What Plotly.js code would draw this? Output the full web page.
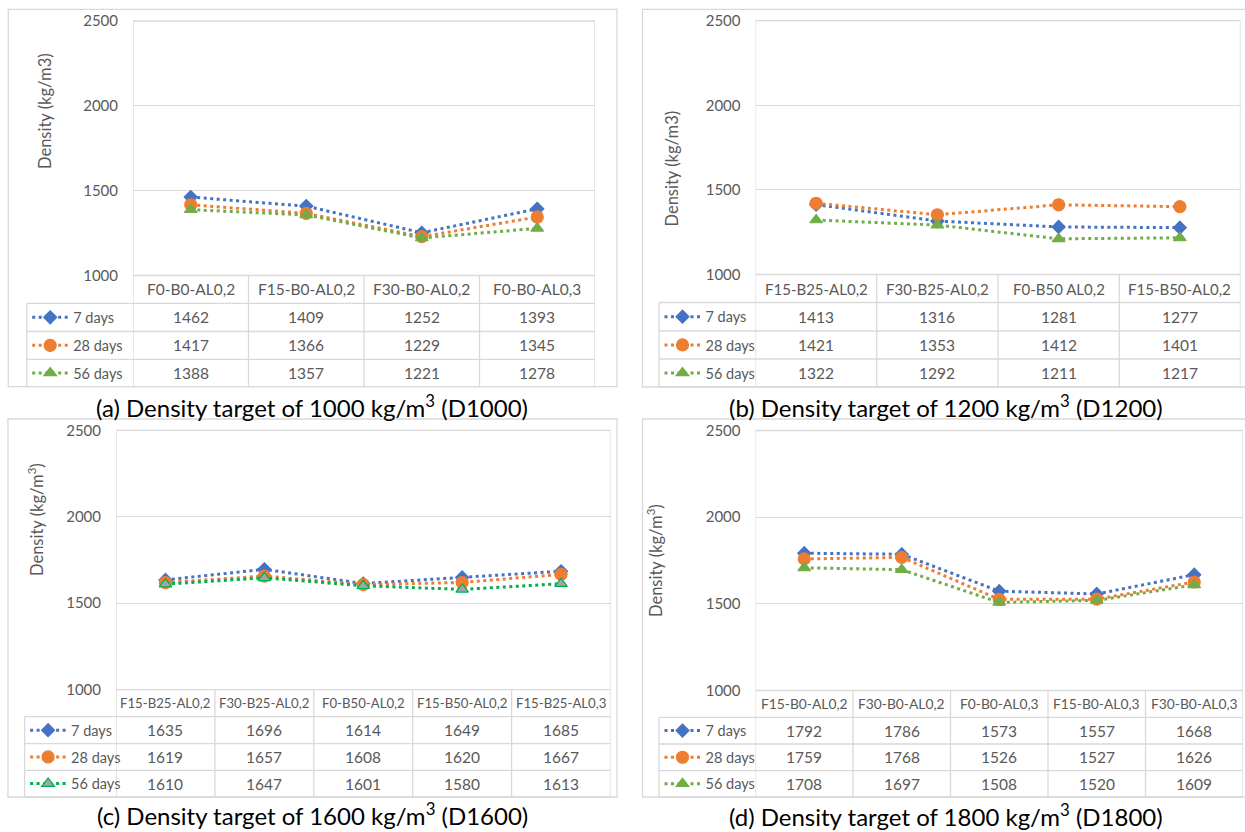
<!DOCTYPE html>
<html>
<head>
<meta charset="utf-8">
<script src="https://cdn.plot.ly/plotly-3.0.1.min.js"></script>
<style>html,body{margin:0;padding:0;background:#fff}#chart{width:1245px;height:832px}</style>
</head>
<body>
<div id="chart"></div>
<script>
// ---------------- data ----------------
const seriesNames = ["7 days", "28 days", "56 days"];

const catsA = ["F0-B0-AL0,2", "F15-B0-AL0,2", "F30-B0-AL0,2", "F0-B0-AL0,3"];
const a7  = [1462, 1409, 1252, 1393];
const a28 = [1417, 1366, 1229, 1345];
const a56 = [1388, 1357, 1221, 1278];

const catsB = ["F15-B25-AL0,2", "F30-B25-AL0,2", "F0-B50 AL0,2", "F15-B50-AL0,2"];
const b7  = [1413, 1316, 1281, 1277];
const b28 = [1421, 1353, 1412, 1401];
const b56 = [1322, 1292, 1211, 1217];

const catsC = ["F15-B25-AL0,2", "F30-B25-AL0,2", "F0-B50-AL0,2", "F15-B50-AL0,2", "F15-B25-AL0,3"];
const c7  = [1635, 1696, 1614, 1649, 1685];
const c28 = [1619, 1657, 1608, 1620, 1667];
const c56 = [1610, 1647, 1601, 1580, 1613];

const catsD = ["F15-B0-AL0,2", "F30-B0-AL0,2", "F0-B0-AL0,3", "F15-B0-AL0,3", "F30-B0-AL0,3"];
const d7  = [1792, 1786, 1573, 1557, 1668];
const d28 = [1759, 1768, 1526, 1527, 1626];
const d56 = [1708, 1697, 1508, 1520, 1609];

const yTicks = [1000, 1500, 2000, 2500];
const yTitlesText = ["Density (kg/m3)", "Density (kg/m3)", "Density (kg/m<sup>3</sup>)", "Density (kg/m<sup>3</sup>)"];
const captions = [
  "(a) Density target of 1000 kg/m<sup>3</sup> (D1000)",
  "(b) Density target of 1200 kg/m<sup>3</sup> (D1200)",
  "(c) Density target of 1600 kg/m<sup>3</sup> (D1600)",
  "(d) Density target of 1800 kg/m<sup>3</sup> (D1800)"
];

// ---------------- layout geometry (pixels) ----------------
const W = 1245, H = 832;
const px = x => x / W;
const py = y => 1 - y / H;
const FONT = "Lato, 'Open Sans', sans-serif";
const GREY = "#595959";
const LINEC = "#d9d9d9";

const panels = [
  {cats: catsA, vals: [a7, a28, a56], x0: 133, x1: 595, top: 21, bot: 275.5, rows: [303.3, 331.5, 359.3, 386.7],
   tl: 26.7, box: [8.3, 617, 9.3, 386.7], yt: [45, 111], cap: [312, 406], green: false, hf: 15.5},
  {cats: catsB, vals: [b7, b28, b56], x0: 755.5, x1: 1240.5, top: 20.7, bot: 274.5, rows: [302.5, 331, 359, 387],
   tl: 659, box: [642.5, 1246, 9.3, 387], yt: [671.5, 169], cap: [946, 406], green: false, hf: 15},
  {cats: catsC, vals: [c7, c28, c56], x0: 116, x1: 610.5, top: 430.3, bot: 689.7, rows: [716.7, 743.7, 770.3, 797],
   tl: 24.6, box: [8, 617, 419, 797], yt: [36, 520], cap: [312, 814], green: true, hf: 13.2},
  {cats: catsD, vals: [d7, d28, d56], x0: 755.5, x1: 1243, top: 430.5, bot: 690.5, rows: [717.3, 744, 770.7, 797],
   tl: 659, box: [642.5, 1246, 419, 797], yt: [655, 561], cap: [946, 815], green: false, hf: 13.8}
];

function styleFor(s, green) {
  if (s === 0) return {line: "#4472C4", sym: "diamond", size: 10, fill: "#4472C4", ol: "#4472C4"};
  if (s === 1) return {line: "#ED7D31", sym: "circle", size: 12, fill: "#ED7D31", ol: "#ED7D31"};
  if (green) return {line: "#00B050", sym: "triangle-up", size: 11, fill: "#A5A5A5", ol: "#00B050"};
  return {line: "#70AD47", sym: "triangle-up", size: 11, fill: "#70AD47", ol: "#70AD47"};
}

const traces = [];
const layout = {
  width: W, height: H,
  margin: {l: 0, r: 0, t: 0, b: 0},
  paper_bgcolor: "#fff", plot_bgcolor: "#fff",
  showlegend: true,
  font: {family: FONT, color: GREY},
  shapes: [], annotations: []
};

let legendIdx = 0;
panels.forEach((p, k) => {
  const n = p.cats.length;
  const ax = k === 0 ? "" : String(k + 1);
  const xs = p.cats.map((_, i) => i);
  layout["xaxis" + ax] = {
    domain: [px(p.x0), px(p.x1)], range: [-0.5, n - 0.5], anchor: "y" + ax,
    showticklabels: false, showgrid: false, zeroline: false, showline: false, fixedrange: true
  };
  layout["yaxis" + ax] = {
    domain: [py(p.bot), py(p.top)], range: [1000, 2500], anchor: "x" + ax,
    tickvals: yTicks, ticktext: yTicks.map(String), showgrid: true, gridcolor: LINEC, gridwidth: 1,
    zeroline: false, showline: false, ticks: "", ticklabelstandoff: 14,
    tickfont: {family: FONT, size: 15, color: GREY}, fixedrange: true
  };

  // series
  p.vals.forEach((v, s) => {
    legendIdx++;
    const st = styleFor(s, p.green);
    const lg = legendIdx === 1 ? "legend" : "legend" + legendIdx;
    traces.push({
      type: "scatter", mode: "lines+markers", name: seriesNames[s],
      x: xs, y: v, xaxis: "x" + ax, yaxis: "y" + ax, legend: lg, hoverinfo: "skip",
      line: {color: st.line, width: 3, dash: "3px,3.5px"},
      marker: {symbol: st.sym, size: st.size, color: st.fill, line: {color: st.ol, width: 1.2}}
    });
    const rc = (p.rows[s] + p.rows[s + 1]) / 2;
    layout[lg] = {
      x: px(p.tl + 0.5), xanchor: "left", y: py(rc), yanchor: "middle",
      bgcolor: "rgba(0,0,0,0)", borderwidth: 0, itemwidth: 36,
      font: {family: FONT, size: 14.5, color: GREY}, itemclick: false, itemdoubleclick: false
    };
    // values row
    v.forEach((val, i) => {
      layout.annotations.push({
        xref: "x" + ax, yref: "paper", x: i, y: py(rc), text: String(val), showarrow: false,
        xanchor: "center", yanchor: "middle", font: {family: FONT, size: 15.5, color: GREY}
      });
    });
  });

  // header row (categories)
  const hc = (p.bot + p.rows[0]) / 2;
  p.cats.forEach((c, i) => {
    layout.annotations.push({
      xref: "x" + ax, yref: "paper", x: i, y: py(hc), text: c, showarrow: false,
      xanchor: "center", yanchor: "middle", font: {family: FONT, size: p.hf, color: GREY}
    });
  });

  // y title and caption
  layout.annotations.push({
    xref: "paper", yref: "paper", x: px(p.yt[0]), y: py(p.yt[1]), text: yTitlesText[k], textangle: -90,
    showarrow: false, xanchor: "center", yanchor: "middle", font: {family: FONT, size: 16.5, color: GREY}
  });
  layout.annotations.push({
    xref: "paper", yref: "paper", x: px(p.cap[0]), y: py(p.cap[1]), text: captions[k],
    showarrow: false, xanchor: "center", yanchor: "middle", font: {family: FONT, size: 24, color: "#000"}
  });

  // outer frame
  const L = {color: LINEC, width: 1.3};
  layout.shapes.push({type: "rect", xref: "paper", yref: "paper", x0: px(p.box[0]), x1: px(p.box[1]),
    y0: py(p.box[3]), y1: py(p.box[2]), line: L, layer: "below"});
  const tb = p.rows[3];
  // plot side borders
  [-0.5, n - 0.5].forEach(xv => layout.shapes.push({type: "line", xref: "x" + ax, yref: "paper",
    x0: xv, x1: xv, y0: py(tb), y1: py(p.top), line: L, layer: "below"}));
  // top border
  layout.shapes.push({type: "line", xref: "x" + ax, yref: "paper", x0: -0.5, x1: n - 0.5,
    y0: py(p.top), y1: py(p.top), line: L, layer: "below"});
  // category dividers in table
  for (let i = 1; i < n; i++) {
    layout.shapes.push({type: "line", xref: "x" + ax, yref: "paper", x0: i - 0.5, x1: i - 0.5,
      y0: py(tb), y1: py(p.bot), line: L, layer: "below"});
  }
  // header top
  layout.shapes.push({type: "line", xref: "x" + ax, yref: "paper", x0: -0.5, x1: n - 0.5,
    y0: py(p.bot), y1: py(p.bot), line: L, layer: "below"});
  // table left column border
  layout.shapes.push({type: "line", xref: "paper", yref: "paper", x0: px(p.tl), x1: px(p.tl),
    y0: py(tb), y1: py(p.rows[0]), line: L, layer: "below"});
  // row lines
  p.rows.forEach(r => layout.shapes.push({type: "line", xref: "paper", yref: "paper",
    x0: px(p.tl), x1: px(p.x1), y0: py(r), y1: py(r), line: L, layer: "below"}));
});

Plotly.newPlot("chart", traces, layout, {displayModeBar: false, staticPlot: true});
</script>
</body>
</html>
